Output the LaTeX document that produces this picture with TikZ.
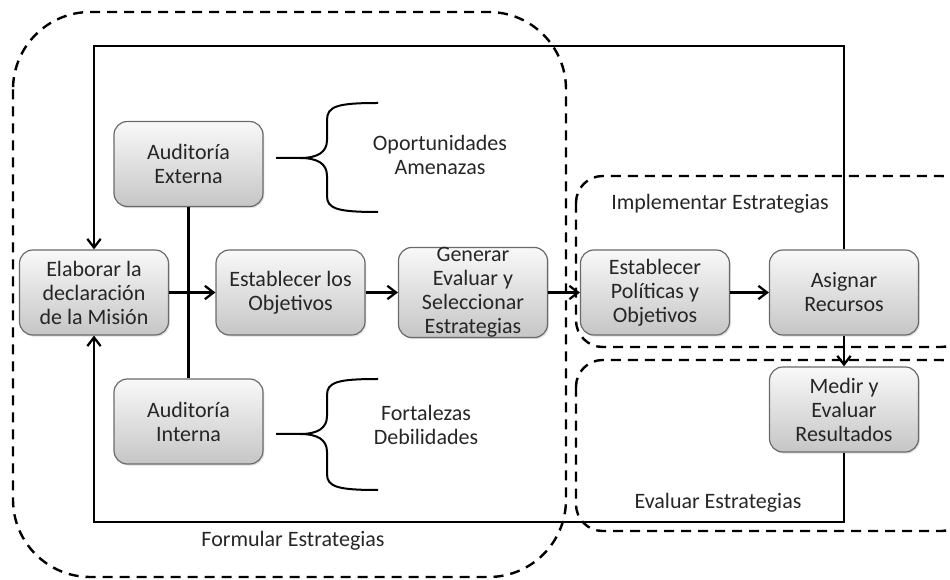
\documentclass[tikz,border=0pt]{standalone}
\usepackage{fontspec}
\setmainfont{Carlito}
\usetikzlibrary{arrows.meta,shadows}
\definecolor{ink}{HTML}{262626}
\definecolor{frame}{HTML}{6A6A6A}
\begin{document}
\begin{tikzpicture}[x=0.75pt,y=-0.75pt,
  stepbox/.style={draw=frame, line width=0.9pt, rounded corners=10pt,
    top color=white!95!gray, bottom color=gray!45,
    drop shadow={opacity=0.25, shadow xshift=1pt, shadow yshift=-1.2pt},
    minimum width=111.75pt, minimum height=63.75pt, inner sep=0pt,
    align=center, text=ink, font=\fontsize{16.5pt}{18pt}\selectfont},
  lbl/.style={align=center, text=ink, font=\fontsize{16.5pt}{18pt}\selectfont},
  link/.style={line width=1.7pt, draw=black},
  arrow/.style={link, -{Straight Barb[length=6.5pt,width=10pt,line width=1.7pt]}},
  phase/.style={dashed, line width=1.8pt, dash pattern=on 7.5pt off 5.25pt}
]
\useasboundingbox (0,0) rectangle (950,580);

% phase regions
\draw[phase, rounded corners=58pt] (13,12) rectangle (566,577);
\draw[phase, rounded corners=20pt] (576,176) rectangle (968,347);
\draw[phase, rounded corners=20pt] (576,360) rectangle (968,531);

% process steps
\node[stepbox] (mis)  at (94,292.5)   {Elaborar la\\declaración\\de la Misión};
\node[stepbox] (ext)  at (188.5,164)  {Auditoría\\Externa};
\node[stepbox] (obj)  at (290.5,292.5){Establecer los\\Objetivos};
\node[stepbox] (int)  at (188.5,421.5){Auditoría\\Interna};
\node[stepbox] (gen)  at (473,292.5)  {Generar\\Evaluar y\\Seleccionar\\Estrategias};
\node[stepbox] (pol)  at (655,292.5)  {Establecer\\Políticas y\\Objetivos};
\node[stepbox] (asig) at (844,292.5)  {Asignar\\Recursos};
\node[stepbox] (med)  at (844,409.5)  {Medir y\\Evaluar\\Resultados};

% audit outcomes
\node[lbl] (opp) at (440,155) {Oportunidades\\Amenazas};
\node[lbl] (fdb) at (426,425) {Fortalezas\\Debilidades};

% phase titles
\node[lbl] (tf) at (293,541) {Formular Estrategias};
\node[lbl] (ti) at (720,204) {Implementar Estrategias};
\node[lbl] (te) at (718,503) {Evaluar Estrategias};

% braces
\draw[line width=1.5pt]
  (276,158) -- (300,158) .. controls (318,158) and (327,152) .. (327,140)
  -- (327,120) .. controls (327,106) and (338,103) .. (378,103)
  (300,158) .. controls (318,158) and (327,164) .. (327,176)
  -- (327,196) .. controls (327,209) and (338,212) .. (378,212);
\draw[line width=1.5pt]
  (276,434) -- (300,434) .. controls (318,434) and (327,428) .. (327,416)
  -- (327,395) .. controls (327,382) and (338,379) .. (378,379)
  (300,434) .. controls (318,434) and (327,440) .. (327,452)
  -- (327,474) .. controls (327,487) and (338,490) .. (378,490);

% flow
\draw[link] (ext) -- (int);
\draw[arrow] (mis) -- (obj);
\draw[arrow] (obj) -- (gen);
\draw[arrow] (gen) -- (pol);
\draw[arrow] (pol) -- (asig);
\draw[arrow] (asig) -- (med);

% feedback loops
\coordinate (top) at (94,46);
\coordinate (bot) at (94,522);
\draw[arrow] (asig.north) |- (top) -- (mis.north);
\draw[arrow] (med.south) |- (bot) -- (mis.south);
\end{tikzpicture}
\end{document}
